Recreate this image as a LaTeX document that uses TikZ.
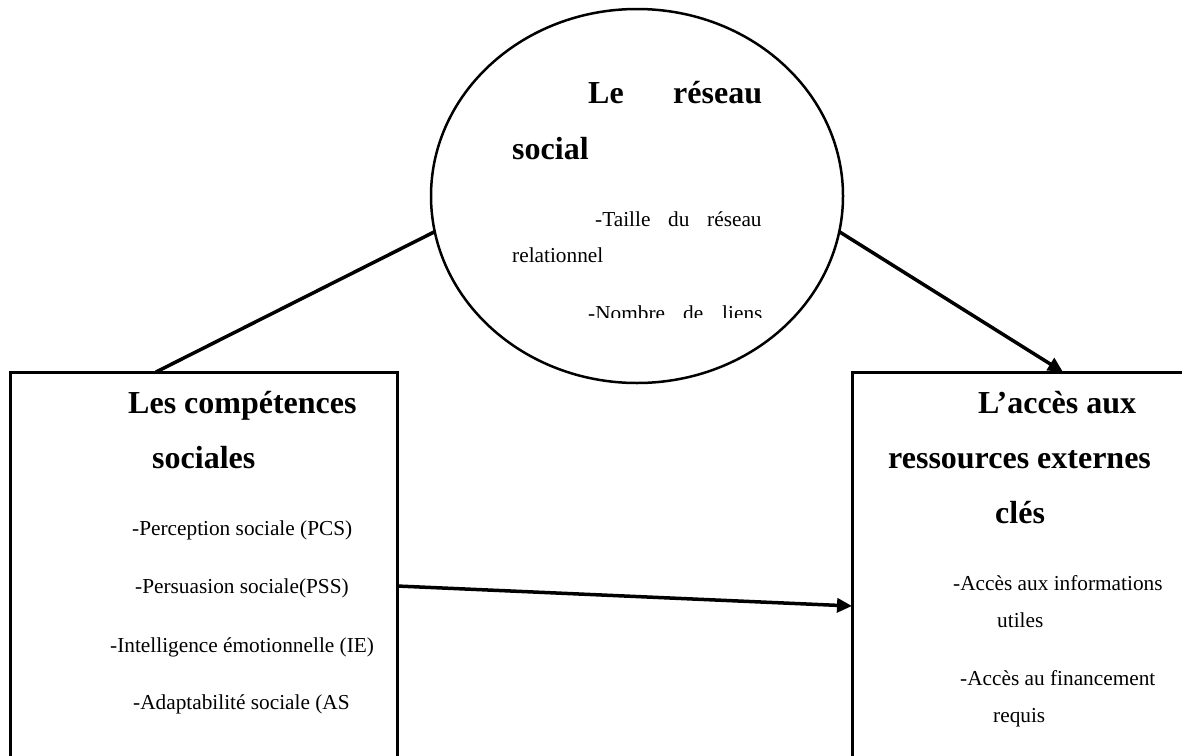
\documentclass[tikz,border=0pt]{standalone}
\usepackage{fontspec}
\setmainfont{Liberation Serif}
\usetikzlibrary{shapes.geometric,arrows.meta}
\tikzset{
 boxnode/.style={draw, line width=3pt, rectangle, inner sep=0pt, outer sep=0pt, anchor=north west},
 heading/.style={anchor=base west, inner sep=0pt, font=\fontsize{32}{38}\selectfont\bfseries},
 body/.style={anchor=base west, inner sep=0pt, font=\fontsize{21.3}{26}\selectfont},
 conn/.style={line width=3.5pt},
 arr/.style={line width=3.5pt, -{Triangle[length=15pt,width=14pt]}},
}
\begin{document}
\begin{tikzpicture}[x=1pt,y=-1pt]
\clip (0,0) rectangle (1182,755);
\fill[white] (0,0) rectangle (1182,755);
% boxes
\node[boxnode, minimum width=387pt, minimum height=428pt] (L) at (10,372) {};
\node[boxnode, minimum width=360pt, minimum height=448pt] (R) at (852,372) {};
% ellipse
\node[draw, ellipse, line width=2.5pt, minimum width=412pt, minimum height=374pt, inner sep=0pt, outer sep=0pt] (E) at (637,196) {};
% ellipse text
\node[heading] (e1) at (588,103) {Le};
\node[heading] (e2) at (673,103) {réseau};
\node[heading] (e3) at (512,159) {social};
\node[body] (e4) at (595,226) {-Taille};
\node[body] (e5) at (668,226) {du};
\node[body] (e6) at (707,226) {réseau};
\node[body] (e7) at (512,262) {relationnel};
\begin{scope}
\clip (430,290) rectangle (850,317);
\node[body] (e8) at (588,320) {-Nombre};
\node[body] (e9) at (683,320) {de};
\node[body] (e10) at (722,320) {liens};
\end{scope}
% left box text
\node[heading] (l1) at (128,413) {Les compétences};
\node[heading] (l2) at (152,468) {sociales};
\node[body] (l3) at (132,535) {-Perception sociale (PCS)};
\node[body] (l4) at (135,593) {-Persuasion sociale(PSS)};
\node[body] (l5) at (110,652) {-Intelligence émotionnelle (IE)};
\node[body] (l6) at (133,709) {-Adaptabilité sociale (AS};
% right box text
\node[heading] (r1) at (978,413) {L’accès aux};
\node[heading] (r2) at (888,468) {ressources externes};
\node[heading] (r3) at (995,523) {clés};
\node[body] (r4) at (953,590) {-Accès aux informations};
\node[body] (r5) at (997,627) {utiles};
\node[body] (r6) at (960,685) {-Accès au financement};
\node[body] (r7) at (993,722) {requis};
% connectors
\draw[conn] (E.190) -- ([xshift=146pt]L.north west);
\draw[arr] (E.-10) -- ([xshift=211pt]R.north west);
\draw[arr] (L.east) -- ([yshift=-10pt]R.west);
\end{tikzpicture}
\end{document}
